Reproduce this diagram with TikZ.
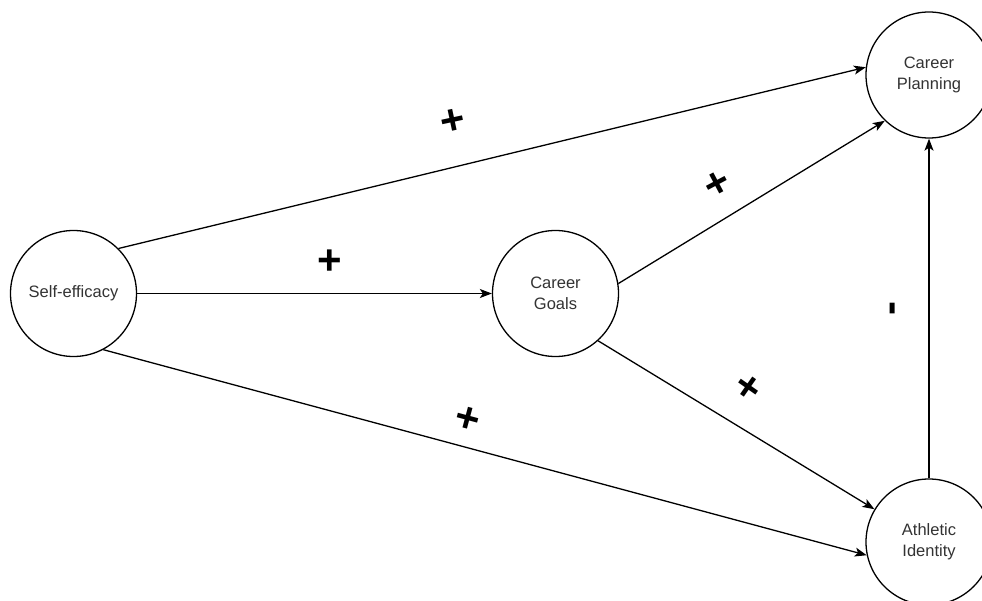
\documentclass[tikz,border=0pt]{standalone}
\usepackage{fontspec}
\setmainfont{Liberation Sans}
\usetikzlibrary{arrows.meta}
\definecolor{txt}{HTML}{333333}
\begin{document}
\begin{tikzpicture}[x=1pt,y=-1pt,
  var/.style={circle,draw=black,line width=1.3pt,minimum size=126pt,inner sep=0pt,
    align=center,text=txt,font=\fontsize{16.5}{21}\selectfont},
  conn/.style={line width=1.3pt,-{Stealth[length=12pt,width=9pt,inset=3pt]}},
  sign/.style={inner sep=0pt,font=\fontsize{42}{42}\selectfont\bfseries}]
\useasboundingbox[fill=white] (0,0) rectangle (982,601);
\node[var] (se) at (73.5,293.5) {Self-efficacy};
\node[var] (cg) at (555.5,293.5) {Career\\Goals};
\node[var] (cp) at (929,75) {Career\\Planning};
\node[var] (ai) at (929,542) {Athletic\\Identity};
\draw[conn] (se.45) -- (cp.173);
\draw[conn] (se.0) -- (cg.180);
\draw[conn] (se.-62) -- (ai.192);
\draw[conn] (cg.9) -- (cp.226);
\draw[conn] (cg.-48) -- (ai.149);
\draw[conn] (ai.90) -- (cp.270);
\node[sign,rotate=12] (s1) at (453,122) {+};
\node[sign] (s2) at (329.5,262.5) {+};
\node[sign,rotate=28] (s3) at (718,185) {+};
\node[sign,rotate=-35] (s4) at (748,388) {+};
\node[sign,rotate=-15] (s5) at (468,420) {+};
\node[sign,rotate=90] (s6) at (897,309) {-};
\end{tikzpicture}
\end{document}
